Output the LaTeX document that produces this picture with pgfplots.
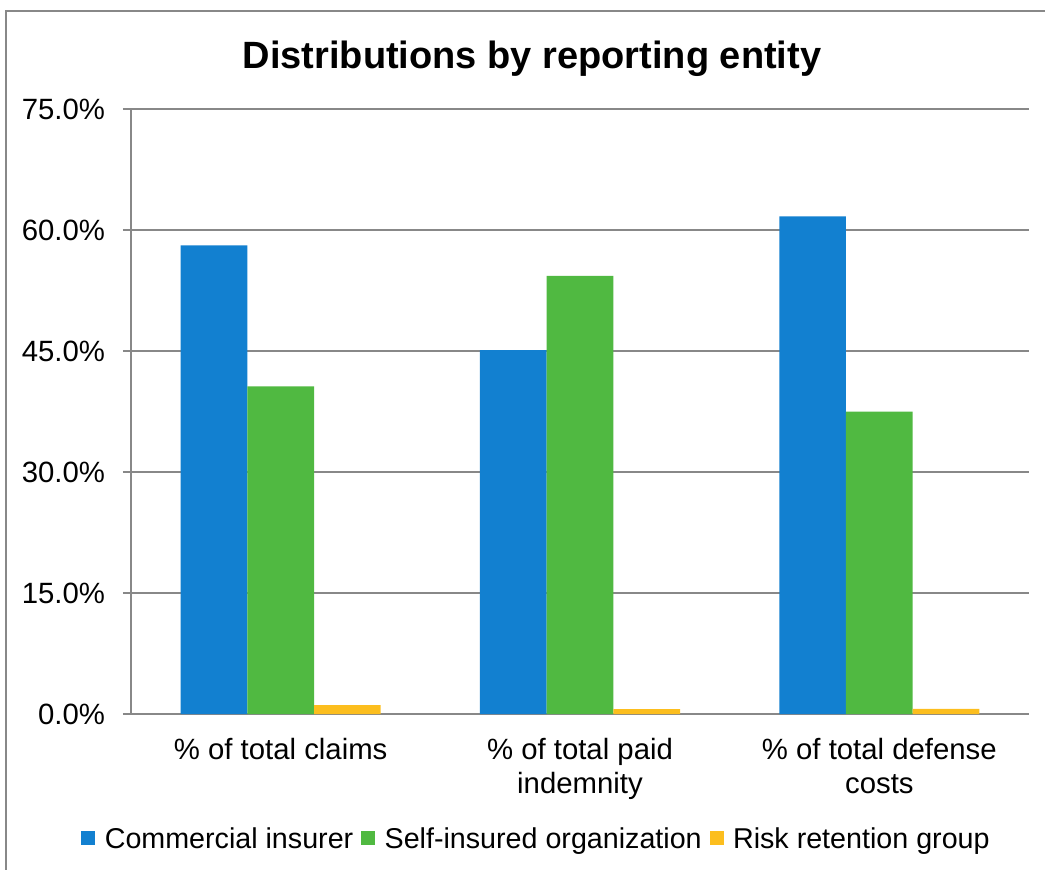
\documentclass[border=0pt]{standalone}
\usepackage{pgfplots}
\pgfplotsset{compat=1.18}
\usepackage{fontspec}
\setmainfont{Liberation Sans}
\definecolor{cblue}{RGB}{18,128,208}
\definecolor{cgreen}{RGB}{80,185,65}
\definecolor{cyellow}{RGB}{252,190,30}
\definecolor{cgrid}{RGB}{136,136,136}
\begin{document}
\begin{tikzpicture}
\useasboundingbox (0,0) rectangle (783.75pt,651.75pt);
\draw[cgrid, line width=2pt] (4.5pt,-5pt) -- (4.5pt,643.5pt) -- (790pt,643.5pt);
\node[anchor=base, font=\fontsize{28.5}{34}\selectfont\bfseries] at (399pt,600.5pt) {Distributions by reporting entity};
\begin{axis}[
  at={(98.25pt,116.25pt)}, anchor=south west,
  scale only axis, width=673.5pt, height=453.75pt,
  ybar=0pt, bar width=0.2228,
  xmin=-0.5, xmax=2.5, ymin=0, ymax=75,
  axis x line*=bottom, axis y line*=left,
  axis line style={cgrid, line width=1.5pt, -},
  xtick={0,1,2},
  xticklabels={{\% of total claims},{\% of total paid\\indemnity},{\% of total defense\\costs}},
  xticklabel style={align=center, font=\fontsize{22}{25}\selectfont, yshift=-9pt},
  x tick style={draw=none},
  extra x ticks={-0.5,0.5,1.5,2.5}, extra x tick labels={},
  extra x tick style={major tick length=6.75pt, tick style={cgrid, line width=1.5pt, draw=cgrid}, tick align=outside, grid=none},
  ytick={0,15,30,45,60,75},
  yticklabels={0.0\%,15.0\%,30.0\%,45.0\%,60.0\%,75.0\%},
  yticklabel style={font=\fontsize{22}{26}\selectfont, xshift=-10pt},
  y tick style={cgrid, line width=1.5pt},
  tick align=outside, major tick length=6pt,
  ymajorgrids, grid style={cgrid, line width=1.5pt},
  legend columns=3,
  legend style={at={(0.452,-0.206)}, anchor=center, draw=none, fill=none,
    font=\fontsize{21.5}{26}\selectfont, /tikz/every even column/.append style={column sep=4pt},
    /tikz/every odd column/.append style={column sep=5pt}},
  legend image code/.code={\fill[#1] (0pt,-4.5pt) rectangle (10.5pt,5.5pt);},
]
\addplot[fill=cblue, draw=none] coordinates {(0,58.1) (1,45.1) (2,61.7)};
\addplot[fill=cgreen, draw=none] coordinates {(0,40.6) (1,54.3) (2,37.5)};
\addplot[fill=cyellow, draw=none] coordinates {(0,1.1) (1,0.6) (2,0.65)};
\legend{Commercial insurer, Self-insured organization, Risk retention group}
\end{axis}
\end{tikzpicture}
\end{document}
